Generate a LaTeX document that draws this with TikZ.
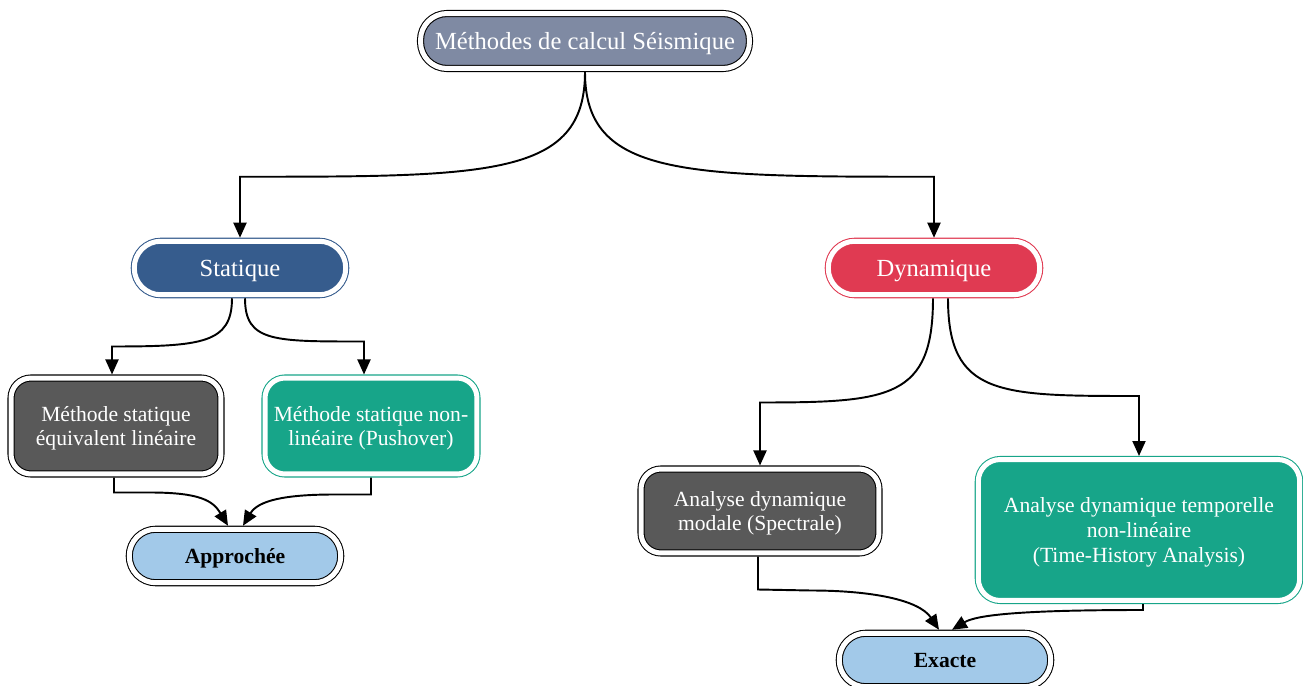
\documentclass[tikz,border=0pt]{standalone}
\usepackage{fontspec}
\setmainfont{Liberation Serif}
\definecolor{slate}{RGB}{127,138,163}
\definecolor{statblue}{RGB}{54,92,141}
\definecolor{dynred}{RGB}{224,58,82}
\definecolor{darkgrey}{RGB}{89,89,89}
\definecolor{methteal}{RGB}{23,165,137}
\definecolor{resblue}{RGB}{162,201,233}
\usetikzlibrary{arrows.meta, calc, positioning}

\begin{document}
\begin{tikzpicture}[x=0.02cm,y=-0.02cm,
	box/.style={double=white,double distance=0.1cm,line width=0.6pt,inner sep=0pt,outer sep=2pt,
		align=center,text=white,text depth=0pt,font=\fontsize{12.3}{14}\selectfont},
	pill/.style={box,rounded corners=0.53cm,minimum width=4.23cm,minimum height=1.07cm},
	card/.style={box,rounded corners=0.4cm},
	result/.style={pill,draw=black,fill=resblue,text=black,font=\fontsize{12.3}{14}\selectfont\bfseries},
	link/.style={line width=1.1pt,-{Triangle[length=0.3cm,width=0.26cm]}}]
	\useasboundingbox (0,0) rectangle (1303,686);
	% noeuds
	\node[pill,draw=black,fill=slate,font=\fontsize{14}{17}\selectfont,minimum width=6.58cm,minimum height=1.1cm] (seism) at (585,41) {Méthodes de calcul Séismique};
	\node[pill,draw=statblue,fill=statblue,font=\fontsize{14}{17}\selectfont] (stat) at (240,268) {Statique};
	\node[pill,draw=dynred,fill=dynred,font=\fontsize{14}{17}\selectfont] (dyn) at (934,268) {Dynamique};
	\node[card,draw=black,fill=darkgrey,minimum width=4.2cm,minimum height=1.92cm] (eqlin) at (116,426) {Méthode statique\\équivalent linéaire};
	\node[card,draw=methteal,fill=methteal,minimum width=4.24cm,minimum height=1.92cm] (nonlin) at (371,426) {Méthode statique non-\\linéaire (Pushover)};
	\node[result] (appr) at (235,556) {Approchée};
	\node[card,draw=black,fill=darkgrey,minimum width=4.76cm,minimum height=1.68cm] (modal) at (760,511) {Analyse dynamique\\modale (Spectrale)};
	\node[card,draw=methteal,fill=methteal,minimum width=6.43cm,minimum height=2.82cm,rounded corners=0.44cm] (temp) at (1139,530) {Analyse dynamique temporelle\\non-linéaire\\(Time-History Analysis)};
	\node[result] (exact) at (945,660) {Exacte};
	% liens
	\draw[link] (seism.south) .. controls +(0,105) and +(250,0) .. ($(stat.north)+(0,-61)$) -- (stat.north);
	\draw[link] (seism.south) .. controls +(0,105) and +(-250,0) .. ($(dyn.north)+(0,-61)$) -- (dyn.north);
	\draw[link] ($(stat.south)+(-8,0)$) .. controls +(0,45) and +(90,0) .. ($(eqlin.north)+(-4,-28)$) coordinate (c1) -- (c1 |- eqlin.north);
	\draw[link] ($(stat.south)+(5,0)$) .. controls +(0,44) and +(-90,0) .. ($(nonlin.north)+(-7,-33)$) coordinate (c2) -- (c2 |- nonlin.north);
	\draw[link] ($(dyn.south)+(-1,0)$) .. controls +(0,100) and +(130,0) .. ($(modal.north)+(0,-63)$) -- (modal.north);
	\draw[link] ($(dyn.south)+(14,0)$) .. controls +(0,98) and +(-140,0) .. ($(temp.north)+(0,-60)$) -- (temp.north);
	\draw[link] ($(eqlin.south)+(-2,0)$) -- ++(0,15) -- ++(36,0) .. controls +(50,0) and +(-15,-25) .. ($(appr.north)+(-7,0)$);
	\draw[link] (nonlin.south) -- ++(0,17) -- ++(-37,0) .. controls +(-50,0) and +(15,-25) .. ($(appr.north)+(8,0)$);
	\draw[link] ($(modal.south)+(-2,0)$) -- ++(0,33) -- ++(53,1) .. controls +(60,0) and +(-20,-30) .. ($(exact.north)+(-6,0)$);
	\draw[link] ($(temp.south)+(4,0)$) -- ++(0,6) .. controls +(-120,0) and +(25,-15) .. ($(exact.north)+(7,0)$);
\end{tikzpicture}
\end{document}
